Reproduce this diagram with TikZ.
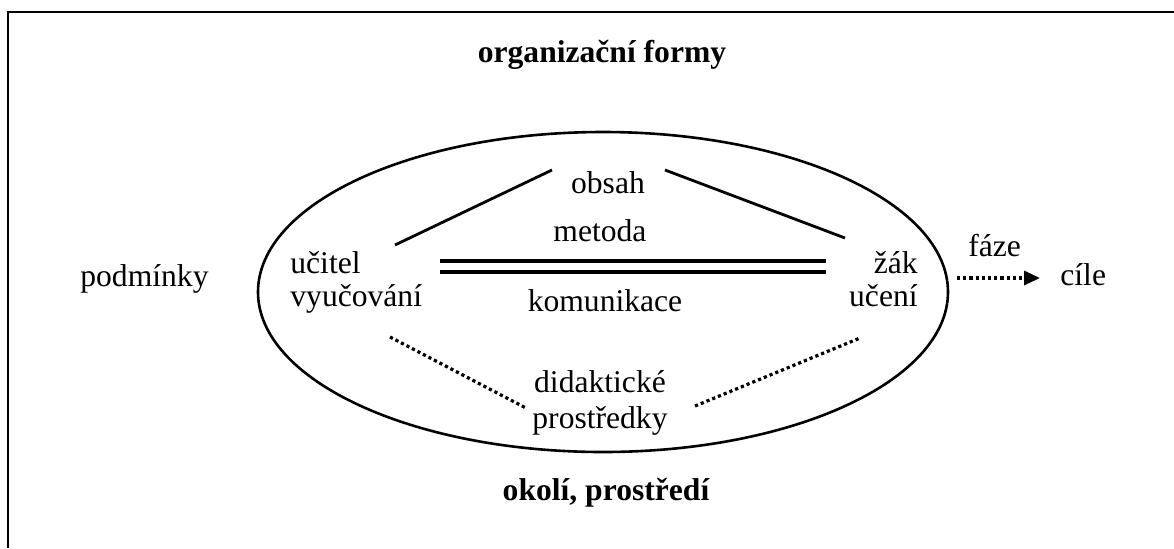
\documentclass[tikz,border=0pt]{standalone}
\usepackage{fontspec}
\setmainfont{Liberation Serif}
\usetikzlibrary{arrows.meta}
\begin{document}
\begin{tikzpicture}[x=0.5pt,y=-0.5pt,
  lbl/.style={font=\fontsize{15.8}{18}\selectfont, inner sep=0pt, anchor=base},
  boldlbl/.style={lbl, font=\fontsize{15.8}{18}\selectfont\bfseries},
  edge/.style={line width=1.4pt},
  dbl/.style={line width=1.6pt},
  dots/.style={line width=1.6pt, dash pattern=on 1.6pt off 1.5pt}]
\useasboundingbox (0,0) rectangle (1174,548);
% frame
\draw[line width=1pt] (1174,12) -- (8,12) -- (8,548);
% outer labels
\node[boldlbl] (forms) at (602,62) {organizační formy};
\node[boldlbl] (env) at (606,500) {okolí, prostředí};
\node[lbl, anchor=base west] (cond) at (80,286) {podmínky};
% ellipse
\draw[line width=1.3pt] (603,292) ellipse [x radius=172.5pt, y radius=80pt];
% inner labels
\node[lbl] (obsah) at (608,193) {obsah};
\node[lbl] (metoda) at (600,241) {metoda};
\node[lbl] (komun) at (605,311) {komunikace};
\node[lbl, anchor=base west] (ucitel) at (290,273) {učitel};
\node[lbl, anchor=base west] (vyuc) at (290,306) {vyučování};
\node[lbl, anchor=base east] (zak) at (918,273) {žák};
\node[lbl, anchor=base east] (uceni) at (918,306) {učení};
\node[lbl] (didak) at (600,392) {didaktické};
\node[lbl] (prostr) at (600,428) {prostředky};
\node[lbl, anchor=base west] (faze) at (968,256) {fáze};
\node[lbl, anchor=base west] (cile) at (1060,285) {cíle};
% connector end points
\coordinate (uo) at (395,245);
\coordinate (ou) at (552,170);
\coordinate (oz) at (665,170);
\coordinate (zo) at (845,238);
\coordinate (ud) at (390,337);
\coordinate (du) at (526,408);
\coordinate (dz) at (695,406);
\coordinate (zd) at (860,338);
\coordinate (mu1) at (440,261);
\coordinate (mz1) at (826,261);
\coordinate (mu2) at (440,272);
\coordinate (mz2) at (826,272);
\coordinate (fs) at (957,278);
% connectors
\draw[edge] (uo) -- (ou);
\draw[edge] (oz) -- (zo);
\draw[dbl] (mu1) -- (mz1);
\draw[dbl] (mu2) -- (mz2);
\draw[dots] (ud) -- (du);
\draw[dots] (dz) -- (zd);
\draw[dots, -{Triangle[length=8pt,width=7pt]}, shorten >=10pt] (fs) -- (fs -| cile.west);
\end{tikzpicture}
\end{document}
